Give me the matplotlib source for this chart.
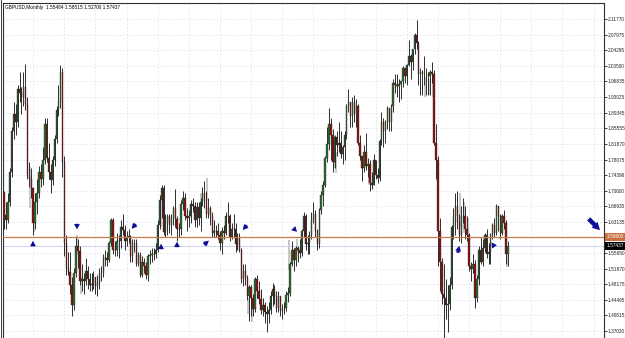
import numpy as np
import matplotlib.pyplot as plt
import matplotlib.transforms as mtransforms

plt.rcParams['font.family'] = ['Liberation Sans Narrow', 'Liberation Sans', 'DejaVu Sans']

# GBPUSD monthly, Mar 1990 .. Oct 2011 (one row per year)
first_open = 1.700
closes = [
    1.647, 1.637, 1.680, 1.750, 1.850, 1.890, 1.872, 1.950, 1.940, 1.930,
    1.955, 1.915, 1.742, 1.735, 1.712, 1.628, 1.680, 1.700, 1.752, 1.735, 1.780, 1.866,
    1.785, 1.750, 1.733, 1.780, 1.830, 1.900, 1.920, 1.990, 1.775, 1.580, 1.520, 1.512,
    1.480, 1.432, 1.510, 1.575, 1.562, 1.490, 1.495, 1.490, 1.515, 1.495, 1.480, 1.482,
    1.500, 1.478, 1.485, 1.510, 1.510, 1.545, 1.545, 1.540, 1.580, 1.635, 1.565, 1.565,
    1.585, 1.585, 1.620, 1.612, 1.585, 1.595, 1.598, 1.550, 1.580, 1.580, 1.530, 1.552,
    1.505, 1.535, 1.527, 1.505, 1.550, 1.552, 1.555, 1.555, 1.565, 1.625, 1.685, 1.712,
    1.608, 1.630, 1.645, 1.625, 1.640, 1.665, 1.638, 1.615, 1.615, 1.675, 1.690, 1.645,
    1.640, 1.645, 1.675, 1.670, 1.635, 1.668, 1.640, 1.680, 1.700, 1.685, 1.650, 1.665,
    1.645, 1.605, 1.610, 1.610, 1.600, 1.580, 1.610, 1.605, 1.645, 1.645, 1.595, 1.615,
    1.615, 1.578, 1.592, 1.565, 1.495, 1.515, 1.498, 1.455, 1.475, 1.450, 1.422, 1.495,
    1.465, 1.448, 1.420, 1.432, 1.415, 1.410, 1.420, 1.453, 1.470, 1.455, 1.425, 1.455,
    1.418, 1.422, 1.425, 1.457, 1.462, 1.530, 1.565, 1.540, 1.570, 1.565, 1.558, 1.610,
    1.645, 1.578, 1.580, 1.600, 1.635, 1.650, 1.610, 1.578, 1.660, 1.695, 1.720, 1.785,
    1.818, 1.865, 1.840, 1.775, 1.835, 1.815, 1.820, 1.795, 1.810, 1.840, 1.910, 1.920,
    1.885, 1.920, 1.890, 1.910, 1.820, 1.790, 1.760, 1.800, 1.765, 1.770, 1.725, 1.720,
    1.780, 1.745, 1.737, 1.825, 1.870, 1.850, 1.870, 1.905, 1.872, 1.910, 1.965, 1.960,
    1.958, 1.963, 1.968, 2.000, 1.980, 2.007, 2.030, 2.015, 2.045, 2.080, 2.060, 1.985,
    1.990, 1.985, 1.985, 1.985, 1.980, 1.990, 1.985, 1.820, 1.780, 1.610, 1.535, 1.460,
    1.450, 1.432, 1.435, 1.480, 1.620, 1.645, 1.670, 1.630, 1.600, 1.645, 1.645, 1.615,
    1.600, 1.525, 1.518, 1.530, 1.450, 1.495, 1.565, 1.535, 1.570, 1.600, 1.555, 1.560,
    1.600, 1.625, 1.605, 1.670, 1.645, 1.605, 1.645, 1.630, 1.55484, 1.57437,
]
highs = [
    1.705, 1.680, 1.700, 1.760, 1.860, 1.920, 1.915, 1.960, 1.990, 1.955,
    1.990, 2.010, 1.930, 1.775, 1.760, 1.715, 1.700, 1.735, 1.765, 1.770, 1.810, 1.880,
    1.880, 1.820, 1.770, 1.790, 1.840, 1.910, 1.960, 2.008, 2.000, 1.790, 1.600, 1.560,
    1.560, 1.500, 1.520, 1.595, 1.590, 1.575, 1.530, 1.510, 1.545, 1.525, 1.510, 1.510,
    1.515, 1.500, 1.505, 1.520, 1.525, 1.555, 1.565, 1.560, 1.585, 1.640, 1.640, 1.585,
    1.605, 1.600, 1.635, 1.650, 1.625, 1.610, 1.615, 1.600, 1.590, 1.590, 1.590, 1.560,
    1.560, 1.550, 1.545, 1.535, 1.555, 1.565, 1.570, 1.570, 1.580, 1.635, 1.695, 1.720,
    1.720, 1.650, 1.650, 1.650, 1.650, 1.670, 1.710, 1.645, 1.630, 1.685, 1.705, 1.700,
    1.665, 1.660, 1.685, 1.690, 1.680, 1.680, 1.680, 1.690, 1.715, 1.730, 1.705, 1.690,
    1.670, 1.655, 1.635, 1.625, 1.630, 1.610, 1.620, 1.625, 1.655, 1.680, 1.650, 1.630,
    1.650, 1.630, 1.605, 1.605, 1.570, 1.530, 1.530, 1.505, 1.480, 1.480, 1.460, 1.500,
    1.505, 1.490, 1.470, 1.450, 1.440, 1.430, 1.440, 1.465, 1.485, 1.480, 1.465, 1.465,
    1.450, 1.435, 1.440, 1.465, 1.475, 1.535, 1.585, 1.570, 1.575, 1.575, 1.590, 1.615,
    1.655, 1.650, 1.600, 1.610, 1.655, 1.680, 1.660, 1.615, 1.665, 1.705, 1.730, 1.790,
    1.860, 1.905, 1.880, 1.855, 1.840, 1.850, 1.870, 1.850, 1.815, 1.850, 1.915, 1.950,
    1.915, 1.930, 1.935, 1.925, 1.915, 1.840, 1.790, 1.815, 1.845, 1.785, 1.780, 1.750,
    1.795, 1.780, 1.760, 1.830, 1.895, 1.880, 1.875, 1.910, 1.905, 1.915, 1.975, 1.985,
    1.985, 1.975, 1.970, 2.005, 2.000, 2.010, 2.068, 2.035, 2.047, 2.085, 2.116, 2.065,
    2.000, 1.995, 2.030, 2.000, 1.990, 1.995, 2.015, 1.995, 1.865, 1.790, 1.640, 1.545,
    1.530, 1.495, 1.480, 1.500, 1.625, 1.665, 1.700, 1.705, 1.650, 1.670, 1.690, 1.670,
    1.645, 1.605, 1.535, 1.555, 1.540, 1.505, 1.575, 1.595, 1.590, 1.605, 1.615, 1.580,
    1.605, 1.630, 1.640, 1.675, 1.665, 1.650, 1.650, 1.660, 1.635, 1.58515,
]
lows = [
    1.615, 1.615, 1.630, 1.670, 1.740, 1.830, 1.840, 1.860, 1.920, 1.890,
    1.910, 1.900, 1.735, 1.715, 1.690, 1.600, 1.615, 1.650, 1.690, 1.715, 1.720, 1.770,
    1.775, 1.735, 1.700, 1.720, 1.765, 1.820, 1.885, 1.905, 1.740, 1.550, 1.505, 1.505,
    1.460, 1.406, 1.420, 1.500, 1.520, 1.480, 1.465, 1.460, 1.480, 1.470, 1.465, 1.465,
    1.470, 1.460, 1.455, 1.470, 1.490, 1.500, 1.525, 1.525, 1.535, 1.575, 1.555, 1.550,
    1.550, 1.545, 1.570, 1.600, 1.565, 1.575, 1.580, 1.535, 1.535, 1.560, 1.525, 1.525,
    1.500, 1.500, 1.510, 1.495, 1.490, 1.530, 1.535, 1.540, 1.545, 1.560, 1.615, 1.640,
    1.600, 1.595, 1.600, 1.605, 1.600, 1.625, 1.620, 1.585, 1.595, 1.600, 1.660, 1.635,
    1.610, 1.620, 1.630, 1.655, 1.620, 1.620, 1.625, 1.610, 1.670, 1.665, 1.640, 1.640,
    1.625, 1.595, 1.595, 1.595, 1.590, 1.565, 1.555, 1.590, 1.600, 1.630, 1.585, 1.590,
    1.595, 1.560, 1.565, 1.560, 1.485, 1.478, 1.480, 1.445, 1.395, 1.405, 1.405, 1.415,
    1.450, 1.435, 1.410, 1.405, 1.390, 1.368, 1.390, 1.410, 1.430, 1.435, 1.415, 1.415,
    1.405, 1.400, 1.410, 1.418, 1.440, 1.455, 1.525, 1.515, 1.525, 1.535, 1.545, 1.550,
    1.595, 1.565, 1.555, 1.555, 1.590, 1.630, 1.595, 1.565, 1.570, 1.650, 1.670, 1.715,
    1.775, 1.805, 1.780, 1.750, 1.760, 1.790, 1.800, 1.785, 1.770, 1.780, 1.830, 1.895,
    1.860, 1.860, 1.870, 1.860, 1.815, 1.780, 1.730, 1.750, 1.755, 1.740, 1.705, 1.710,
    1.720, 1.735, 1.725, 1.730, 1.815, 1.810, 1.820, 1.855, 1.850, 1.850, 1.895, 1.940,
    1.930, 1.920, 1.925, 1.955, 1.965, 1.960, 2.005, 1.975, 1.995, 2.035, 2.045, 1.960,
    1.935, 1.935, 1.960, 1.935, 1.935, 1.935, 1.965, 1.815, 1.735, 1.525, 1.465, 1.435,
    1.352, 1.400, 1.367, 1.420, 1.470, 1.590, 1.600, 1.615, 1.585, 1.580, 1.630, 1.590,
    1.585, 1.515, 1.490, 1.510, 1.425, 1.440, 1.480, 1.530, 1.525, 1.560, 1.545, 1.530,
    1.530, 1.590, 1.595, 1.600, 1.610, 1.590, 1.600, 1.615, 1.530, 1.52700,
]
opens = [first_open] + closes[:-1]

# light grey ghost bars seen beside some candles: bar index, low, high
ghost_bars = [13.5, 15.5, 37.5, 39.5, 80.5, 101.5, 104.5, 125.5, 127.5, 146.5,
              150.5, 169.5, 170.5, 187.5, 216.5, 218.5, 220.5, 234.5, 236.5, 238.5, 258.5]
ghost_lo = [1.665, 1.608, 1.552, 1.460, 1.620, 1.640, 1.684, 1.410, 1.392, 1.516,
            1.560, 1.760, 1.749, 1.720, 1.930, 1.935, 1.930, 1.620, 1.605, 1.600, 1.524]
ghost_hi = [1.762, 1.648, 1.600, 1.500, 1.690, 1.700, 1.737, 1.450, 1.430, 1.588,
            1.590, 1.810, 1.800, 1.740, 1.979, 1.975, 1.985, 1.700, 1.680, 1.640, 1.572]

tick_values = [2.11770, 2.07975, 2.04295, 2.00500, 1.96835, 1.93025,
               1.89345, 1.85555, 1.81870, 1.78075, 1.74396, 1.70600,
               1.66930, 1.63135, 1.59450, 1.55650, 1.51870, 1.48175,
               1.44495, 1.40815, 1.37020]
# the 1.59450 label sits under the orange level box
tick_labels = ["2.11770", "2.07975", "2.04295", "2.00500", "1.96835", "1.93025",
               "1.89345", "1.85555", "1.81870", "1.78075", "1.74396", "1.70600",
               "1.66930", "1.63135", "", "1.55650", "1.51870", "1.48175",
               "1.44495", "1.40815", "1.37020"]
level_price = 1.5961
level_label = "1.59600"
bid_price = 1.57437
header = "GBPUSD,Monthly  1.55484 1.58515 1.52700 1.57437"

# hand drawn arrows: bar index, price at the tip, tail offset (points)
arrow_bars = [14.9, 37.5, 64.7, 80.7, 88.9, 106.4, 121.8, 151.6, 234.3, 249.7, 307.3]
arrow_prices = [1.593, 1.607, 1.610, 1.586, 1.591, 1.591, 1.607, 1.603, 1.581, 1.588, 1.607]
arrow_dx = [0, 0, 5.5, 0, 0, -6.5, 5.5, -5.5, -2, 4.5, -11]
arrow_dy = [-8, 8, 6.5, -8, -8, -5.5, 6.5, 5.5, -9, -6.5, 11]

o = np.array(opens)
c = np.array(closes)
h = np.array(highs)
l = np.array(lows)
x = np.arange(len(c))

fig = plt.figure(figsize=(6.25, 3.38), dpi=100)
ax = fig.add_axes([3 / 625, 0, 601 / 625, 335 / 338])

# grid
for t in tick_values:
    ax.axhline(t, color='#dcdcec', lw=0.6, ls=(0, (1.5, 2.5)), zorder=0)
for g in range(15, 310, 16):
    ax.axvline(g, color='#dcdcec', lw=0.6, ls=(0, (1.5, 2.5)), zorder=0)

# ghost bars
ax.vlines(ghost_bars, ghost_lo, ghost_hi, color='#b8b8b8', lw=1.1, zorder=1)

# candles
ax.vlines(x, l, h, color='#202020', lw=0.65, zorder=2)
up = c >= o
body_col = np.where(up, '#2f6b2f', '#8b1515')
ax.bar(x, np.abs(c - o), bottom=np.minimum(o, c), width=0.7,
       color=body_col, edgecolor='#202020', linewidth=0.25, zorder=3)

# levels
ax.axhline(level_price, color='#c87a4e', lw=0.9, zorder=4)
ax.axhline(bid_price, color='#cfcff2', lw=0.7, zorder=1)

# arrows
for bx, bp, dx, dy in zip(arrow_bars, arrow_prices, arrow_dx, arrow_dy):
    big = abs(dx) > 8
    ax.annotate('', xy=(bx, bp), xytext=(dx, dy), textcoords='offset points',
                arrowprops=dict(arrowstyle='simple,head_length=0.55,head_width=0.6,tail_width=0.32',
                                color='#0c0c9a', lw=0, mutation_scale=10 if big else 7),
                zorder=6, annotation_clip=False)

ax.set_xlim(-0.5, -0.5 + 601 / 1.946)
ax.set_ylim(2.1177 - 319 * 0.0023958, 2.1177 + 16 * 0.0023958)

ax.yaxis.tick_right()
ax.set_yticks(tick_values)
ax.set_yticklabels(tick_labels)
ax.tick_params(axis='y', length=2, width=0.6, pad=0.8, labelsize=3.4, colors='#202020')
ax.set_xticks([])

for s in ['left', 'top', 'right']:
    ax.spines[s].set_color('#303030')
    ax.spines[s].set_linewidth(0.8)
ax.spines['bottom'].set_visible(False)

trans = mtransforms.blended_transform_factory(ax.transAxes, ax.transData)
ax.text(1.004, level_price, level_label, transform=trans, fontsize=3.4, color='white',
        va='center', ha='left', zorder=10, clip_on=False,
        bbox=dict(boxstyle='square,pad=0.3', fc='#c8733f', ec='none'))
ax.text(1.004, bid_price, f"{bid_price:.5f}", transform=trans, fontsize=3.4, color='white',
        va='center', ha='left', zorder=10, clip_on=False,
        bbox=dict(boxstyle='square,pad=0.3', fc='black', ec='none'))

ax.text(0.004, 0.995, header, transform=ax.transAxes, fontsize=3.4, color='black',
        va='top', ha='left')

# left double frame
fig.add_artist(plt.Line2D([0.5 / 625, 0.5 / 625], [0, 1], color='#404040', lw=0.7))

fig.savefig('out.png', dpi=100)
